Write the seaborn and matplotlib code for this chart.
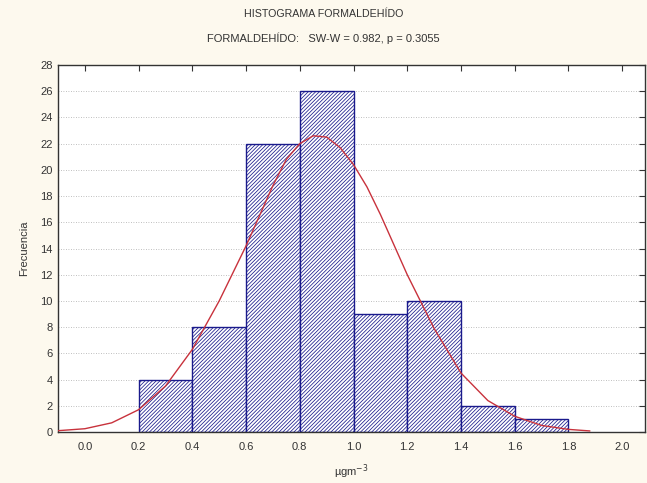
import matplotlib
matplotlib.use("Agg")
import matplotlib.pyplot as plt
import seaborn as sns
import numpy as np

bin_edges = [0.2, 0.4, 0.6, 0.8, 1.0, 1.2, 1.4, 1.6, 1.8]
counts = [4, 8, 22, 26, 9, 10, 2, 1]
bin_centers = [0.3, 0.5, 0.7, 0.9, 1.1, 1.3, 1.5, 1.7]

curve_x = [-0.1, 0.0, 0.1, 0.2, 0.3, 0.4, 0.5, 0.6, 0.7, 0.75, 0.8, 0.85, 0.9, 0.95, 1.0,
           1.05, 1.1, 1.15, 1.2, 1.3, 1.4, 1.5, 1.6, 1.7, 1.8, 1.88]
curve_y = [0.1, 0.25, 0.7, 1.7, 3.5, 6.3, 10.0, 14.2, 18.8, 20.8, 22.0, 22.6, 22.5, 21.7, 20.4,
           18.7, 16.6, 14.3, 12.0, 7.9, 4.5, 2.4, 1.2, 0.5, 0.2, 0.08]

x_ticks = [0.0, 0.2, 0.4, 0.6, 0.8, 1.0, 1.2, 1.4, 1.6, 1.8, 2.0]
x_tick_labels = ["0.0", "0.2", "0.4", "0.6", "0.8", "1.0", "1.2", "1.4", "1.6", "1.8", "2.0"]
y_ticks = list(range(0, 29, 2))

title1 = "HISTOGRAMA FORMALDEHÍDO"
title2 = "FORMALDEHÍDO:   SW-W = 0.982, p = 0.3055"

sns.set_style("white")
plt.rcParams['font.family'] = ['Liberation Sans', 'DejaVu Sans']
plt.rcParams['hatch.color'] = '#45456a'
plt.rcParams['hatch.linewidth'] = 0.55

bg = '#fdf9ee'
fig = plt.figure(figsize=(6.47, 4.83), dpi=100, facecolor=bg)
ax = fig.add_axes([58/647, 1 - 432/483, (645-58)/647, (432-65)/483])
ax.set_facecolor('white')

sns.histplot(x=bin_centers, weights=counts, bins=bin_edges, ax=ax,
             color='white', edgecolor='#1a1a8c', linewidth=1.0, alpha=1.0)
for p in ax.patches:
    p.set_hatch('/////////')
    p.set_zorder(2)

sns.lineplot(x=curve_x, y=curve_y, ax=ax, color='#c8323c', linewidth=1.0, zorder=3)

ax.set_xlim(-0.1, 2.085)
ax.set_ylim(0, 28)
ax.set_xticks(x_ticks)
ax.set_xticklabels(x_tick_labels)
ax.set_yticks(y_ticks)
ax.set_axisbelow(True)
ax.yaxis.grid(True, linestyle=(0, (1, 2)), color='#aaaaaa', linewidth=0.6)
ax.xaxis.grid(False)

for s in ax.spines.values():
    s.set_color('#333333')
    s.set_linewidth(1.0)

ax.tick_params(axis='both', which='both', direction='in', top=True, right=True,
               length=4, width=0.8, color='#333333', labelsize=8, labelcolor='#333333')
ax.tick_params(axis='x', pad=7)
ax.tick_params(axis='y', pad=4)

ax.set_xlabel("µgm$^{-3}$", fontsize=8, color='#333333', labelpad=8)
ax.set_ylabel("Frecuencia", fontsize=8, color='#333333', labelpad=8)

fig.text(0.5, 1 - 14/483, title1, ha='center', va='center', fontsize=7.7, color='#333333')
fig.text(0.5, 1 - 38/483, title2, ha='center', va='center', fontsize=8, color='#333333')

fig.savefig("out.png", dpi=100, facecolor=bg)
